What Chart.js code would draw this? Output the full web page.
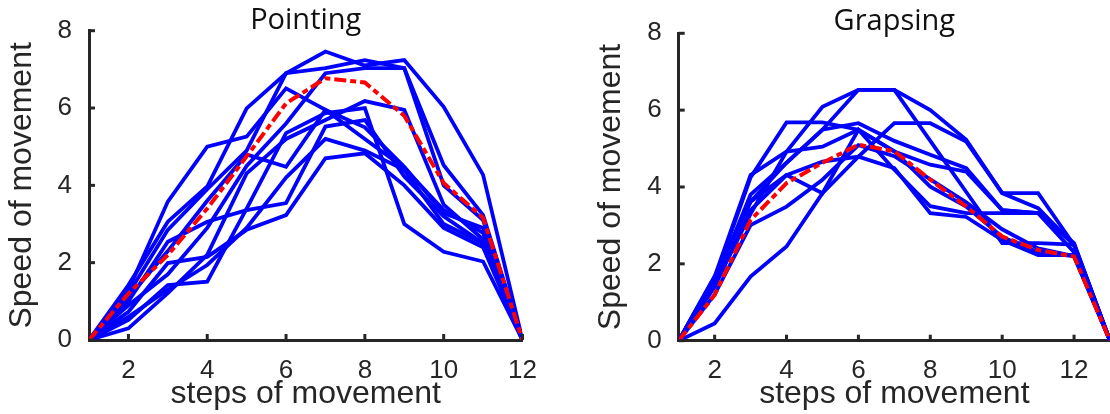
<!DOCTYPE html>
<html>
<head>
<meta charset="utf-8">
<script src="https://cdn.jsdelivr.net/npm/chart.js@4.4.1/dist/chart.umd.min.js"></script>
<style>
  html, body { margin: 0; padding: 0; background: #fff; }
  #wrap { position: relative; width: 1110px; height: 414px; overflow: hidden; }
  .panel { position: absolute; top: 0; width: 555px; height: 414px; }
  #panel-left { left: 0; }
  #panel-right { left: 555px; }
</style>
</head>
<body>
<div id="wrap">
  <div class="panel" id="panel-left"><canvas id="chart-left" width="555" height="414"></canvas></div>
  <div class="panel" id="panel-right"><canvas id="chart-right" width="555" height="414"></canvas></div>
</div>
<script>
// x positions (steps) and tick labels
const stepsPointing = [1, 2, 3, 4, 5, 6, 7, 8, 9, 10, 11, 12];
const stepsGrasping = [1, 2, 3, 4, 5, 6, 7, 8, 9, 10, 11, 12, 13];
const xTicks = [2, 4, 6, 8, 10, 12];
const yTicks = [0, 2, 4, 6, 8];

// Pointing: single trials (blue) and mean (red)
const pointingTrials = [
  [0, 1.42, 3.06, 3.97, 5.99, 6.9, 7.46, 7.1, 7.24, 6.03, 4.27, 0],
  [0, 1.29, 3.58, 5.0, 5.26, 6.51, 5.95, 5.2, 4.45, 3.36, 2.77, 0],
  [0, 1.2, 2.85, 3.9, 4.9, 6.9, 7.03, 7.24, 7.03, 4.52, 3.23, 0],
  [0, 1.0, 2.54, 3.06, 3.36, 3.54, 5.52, 5.69, 4.23, 3.2, 2.5, 0],
  [0, 0.73, 1.99, 2.15, 2.85, 3.23, 4.7, 4.83, 4.0, 2.9, 2.4, 0],
  [0, 0.52, 1.42, 1.51, 3.4, 5.35, 5.87, 6.0, 3.0, 2.28, 2.03, 0],
  [0, 0.3, 1.21, 2.2, 4.31, 5.2, 5.69, 6.18, 5.95, 3.5, 2.6, 0],
  [0, 0.9, 1.7, 2.9, 4.5, 5.6, 6.9, 7.03, 7.03, 4.0, 3.1, 0],
  [0, 1.1, 2.3, 3.6, 4.8, 4.48, 5.95, 5.5, 4.48, 3.28, 2.9, 0],
  [0, 0.6, 1.3, 1.94, 2.9, 4.2, 5.2, 4.9, 4.4, 3.0, 2.5, 0],
];
const pointingMean = [0, 1.2, 2.2, 3.4, 4.75, 6.12, 6.77, 6.66, 5.8, 4.06, 3.16, 0];

// Grapsing: single trials (blue) and mean (red)
const graspingTrials = [
  [0, 1.67, 4.31, 4.92, 6.09, 6.53, 6.53, 6.0, 5.23, 3.84, 3.45, 2.49, 0],
  [0, 1.67, 3.62, 4.63, 5.49, 6.53, 6.53, 5.2, 3.87, 2.54, 2.54, 2.5, 0],
  [0, 1.6, 4.25, 5.68, 5.68, 5.49, 4.92, 4.58, 4.4, 3.4, 3.32, 2.3, 0],
  [0, 1.4, 3.4, 4.31, 4.66, 4.79, 5.66, 5.66, 5.18, 3.84, 3.84, 2.49, 0],
  [0, 1.5, 3.8, 4.63, 5.49, 5.66, 5.2, 4.84, 4.49, 3.4, 3.32, 2.5, 0],
  [0, 1.45, 3.3, 4.92, 5.05, 5.49, 4.93, 4.01, 3.49, 2.7, 2.3, 2.2, 0],
  [0, 0.45, 1.67, 2.45, 3.84, 4.79, 4.49, 3.32, 3.22, 2.62, 2.23, 2.23, 0],
  [0, 1.2, 3.01, 3.49, 4.19, 5.09, 4.8, 4.2, 3.6, 2.9, 2.4, 2.2, 0],
  [0, 1.6, 3.62, 4.31, 3.84, 5.49, 4.45, 3.5, 3.32, 3.32, 3.32, 2.54, 0],
];
const graspingMean = [0, 1.19, 3.14, 4.1, 4.63, 5.1, 4.93, 4.19, 3.49, 2.71, 2.36, 2.19, 0];

const AXIS_COLOR = "#262626";
const AXIS_FONT = '"Liberation Sans", Arial, sans-serif';
const TITLE_FONT = '"Open Sans", "Liberation Sans", sans-serif';

function toPoints(steps, values) {
  return values.map((v, i) => ({ x: steps[i], y: v }));
}

// MATLAB-style inward tick marks, placed through the scales
const inwardTicks = {
  id: "inwardTicks",
  afterDraw(chart) {
    const { ctx, chartArea, scales } = chart;
    const len = 6;
    ctx.save();
    ctx.strokeStyle = AXIS_COLOR;
    ctx.lineWidth = 3;
    scales.x.ticks.forEach((t) => {
      const px = scales.x.getPixelForValue(t.value);
      ctx.beginPath();
      ctx.moveTo(px, chartArea.bottom);
      ctx.lineTo(px, chartArea.bottom - len);
      ctx.stroke();
    });
    scales.y.ticks.forEach((t) => {
      const py = scales.y.getPixelForValue(t.value);
      ctx.beginPath();
      ctx.moveTo(chartArea.left, py);
      ctx.lineTo(chartArea.left + len, py);
      ctx.stroke();
    });
    ctx.restore();
  },
};

function makePanel(canvasId, cfg) {
  const datasets = [
    {
      label: "mean",
      data: toPoints(cfg.steps, cfg.mean),
      borderColor: "#ff0000",
      borderWidth: 4,
      borderDash: [12, 4, 6, 4],
      pointRadius: 0,
      tension: 0,
      order: 0,
    },
  ];
  cfg.trials.forEach((vals, i) => {
    datasets.push({
      label: `trial ${i + 1}`,
      data: toPoints(cfg.steps, vals),
      borderColor: "#0000ff",
      borderWidth: 3.8,
      pointRadius: 0,
      tension: 0,
      order: 1,
    });
  });

  return new Chart(document.getElementById(canvasId), {
    type: "line",
    data: { datasets },
    options: {
      responsive: false,
      animation: false,
      events: [],
      layout: {
        padding: { left: cfg.padLeft, right: cfg.padRight, top: 0, bottom: 0 },
      },
      plugins: {
        legend: { display: false },
        tooltip: { enabled: false },
        title: {
          display: true,
          text: cfg.title,
          fullSize: false,
          color: "#111",
          font: { family: TITLE_FONT, size: 29, weight: "normal", lineHeight: 0.7 },
          padding: { top: cfg.titleTop, bottom: cfg.titleBottom },
        },
      },
      scales: {
        x: {
          type: "linear",
          min: cfg.steps[0],
          max: cfg.xMax,
          grid: { display: false },
          border: { display: true, color: AXIS_COLOR, width: 3 },
          afterBuildTicks(scale) {
            scale.ticks = xTicks.map((v) => ({ value: v }));
          },
          afterFit(scale) {
            scale.height = cfg.xHeight;
          },
          ticks: {
            color: AXIS_COLOR,
            padding: 7,
            maxRotation: 0,
            autoSkip: false,
            font: { family: AXIS_FONT, size: 26 },
          },
          title: {
            display: true,
            text: "steps of movement",
            color: AXIS_COLOR,
            font: { family: AXIS_FONT, size: 32 },
            padding: { top: 0, bottom: 1 },
          },
        },
        y: {
          min: 0,
          max: 8,
          grid: { display: false },
          border: { display: true, color: AXIS_COLOR, width: 3 },
          afterBuildTicks(scale) {
            scale.ticks = yTicks.map((v) => ({ value: v }));
          },
          afterFit(scale) {
            scale.width = cfg.yWidth;
          },
          ticks: {
            color: AXIS_COLOR,
            padding: 9,
            font: { family: AXIS_FONT, size: 26 },
          },
          title: {
            display: true,
            text: "Speed of movement",
            color: AXIS_COLOR,
            font: { family: AXIS_FONT, size: 32 },
            padding: { top: 3, bottom: 0 },
          },
        },
      },
    },
    plugins: [inwardTicks],
  });
}

makePanel("chart-left", {
  title: "Pointing",
  steps: stepsPointing,
  xMax: 12,
  trials: pointingTrials,
  mean: pointingMean,
  padLeft: 0,
  padRight: 32.5,
  yWidth: 89,
  xHeight: 74,
  titleTop: 10.4,
  titleBottom: 0,
});

makePanel("chart-right", {
  title: "Grapsing",
  steps: stepsGrasping,
  xMax: 13,
  trials: graspingTrials,
  mean: graspingMean,
  padLeft: 34,
  padRight: 0,
  yWidth: 89.7,
  xHeight: 73.3,
  titleTop: 11.5,
  titleBottom: 1.5,
});
</script>
</body>
</html>
